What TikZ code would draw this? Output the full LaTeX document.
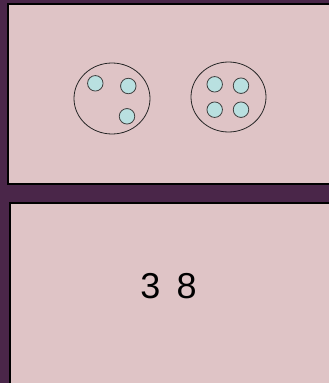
\documentclass[tikz,border=0pt]{standalone}
\usepackage{fontspec}
\setmainfont{Liberation Sans}
\definecolor{bgpurple}{HTML}{4A2649}
\definecolor{panelpink}{HTML}{DFC4C6}
\definecolor{dotcyan}{HTML}{B9E0E0}
\begin{document}
\begin{tikzpicture}[x=1pt,y=-1pt,
  panel/.style={draw=black,line width=2pt,fill=panelpink},
  setring/.style={draw=black!85,line width=0.8pt},
  dot/.style={circle,draw=black!75,line width=0.8pt,fill=dotcyan,minimum size=15.5pt,inner sep=0pt}]
\fill[bgpurple] (0,0) rectangle (329,383);
\useasboundingbox (0,0) rectangle (329,383);
\draw[panel] (8,4) rectangle (340,184);
\draw[panel] (10,203) rectangle (340,395);
% sets
\draw[setring] (112,98.5) ellipse [x radius=38,y radius=35.5];
\draw[setring] (228.5,97) ellipse [x radius=37.5,y radius=35];
\node[dot] (a1) at (95.3,83.3) {};
\node[dot] (a2) at (128.3,86) {};
\node[dot] (a3) at (127,116.3) {};
\node[dot] (b1) at (214.7,84.3) {};
\node[dot] (b2) at (241,85.7) {};
\node[dot] (b3) at (214.7,109.7) {};
\node[dot] (b4) at (241,109.7) {};
\node[font=\fontsize{36}{40}\selectfont,inner sep=0pt] (num) at (168.5,286) {3\hspace{0.45em}8};
\end{tikzpicture}
\end{document}
